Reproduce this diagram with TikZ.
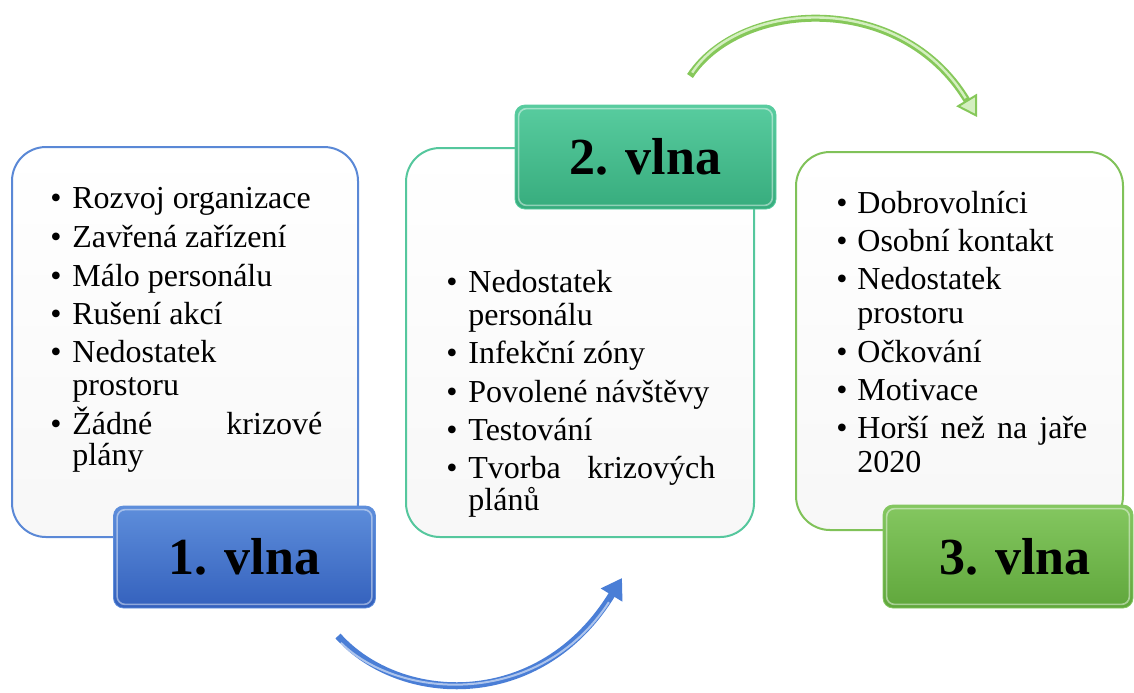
\documentclass[tikz,border=0pt]{standalone}
\usepackage{fontspec}
\setmainfont{Liberation Serif}
\usetikzlibrary{arrows.meta}

\definecolor{blueline}{HTML}{5A88D6}
\definecolor{bluetop}{HTML}{5E8EDB}
\definecolor{bluebot}{HTML}{3461BD}
\definecolor{tealline}{HTML}{55C79D}
\definecolor{tealtop}{HTML}{58CC9F}
\definecolor{tealbot}{HTML}{37AC7D}
\definecolor{greenline}{HTML}{80C259}
\definecolor{greentop}{HTML}{84C760}
\definecolor{greenbot}{HTML}{60A73C}
\definecolor{arrowblue}{HTML}{4A7ED6}
\definecolor{arrowgreen}{HTML}{86C85A}
\definecolor{greenhl}{HTML}{D4EFC0}

\newcommand\listfont{\fontsize{16pt}{18pt}\selectfont}
\newcommand\wavefont{\fontsize{26pt}{30pt}\selectfont\bfseries}

\begin{document}
\begin{tikzpicture}[x=0.5pt,y=-0.5pt,
  panel/.style={draw, line width=1pt, rounded corners=17pt,
    top color=white, bottom color=black!3, inner sep=0pt},
  wave/.style={rounded corners=5pt, inner sep=0pt, font=\wavefont,
    text=black, minimum width=131pt, minimum height=51pt},
  itm/.style={anchor=base west, inner sep=0pt, font=\listfont},
  bevel/.style={white, opacity=.45, line width=.8pt, rounded corners=4pt},
]
\useasboundingbox (0,0) rectangle (1134,692);

% content panels
\node[panel, draw=blueline, minimum width=173pt, minimum height=195pt] (p1) at (185,342) {};
\node[panel, draw=tealline, minimum width=174pt, minimum height=194.5pt] (p2) at (580,342.5) {};
\node[panel, draw=greenline, minimum width=163.5pt, minimum height=189pt] (p3) at (959.5,341) {};

% wave labels
\node[wave, top color=bluetop, bottom color=bluebot, draw=bluetop] (l1) at (244.5,557) {1. vlna};
\node[wave, top color=tealtop, bottom color=tealbot, draw=tealtop, minimum width=130.5pt, minimum height=52pt] (l2) at (645.5,157) {2. vlna};
\node[wave, top color=greentop, bottom color=greenbot, draw=greentop, minimum width=125pt, minimum height=51.5pt] (l3) at (1008,556.5) {\hspace*{7pt}3. vlna};
\foreach \l in {l1,l2,l3}
  \draw[bevel] ([shift={(4,4)}]\l.north west) rectangle ([shift={(-4,-4)}]\l.south east);

% first wave items
\node[itm] (a1b) at (50,208) {•};  \node[itm] (a1) at (72,208) {Rozvoj organizace};
\node[itm] (a2b) at (50,247) {•};  \node[itm] (a2) at (72,247) {Zavřená zařízení};
\node[itm] (a3b) at (50,286) {•};  \node[itm] (a3) at (72,286) {Málo personálu};
\node[itm] (a4b) at (50,324) {•};  \node[itm] (a4) at (72,324) {Rušení akcí};
\node[itm] (a5b) at (50,362) {•};  \node[itm] (a5) at (72,362) {Nedostatek};
\node[itm] (a5c) at (72,395) {prostoru};
\node[itm] (a6b) at (50,434) {•};  \node[itm] (a6) at (72,434) {\makebox[125pt][s]{Žádné\hfill krizové}};
\node[itm] (a6c) at (72,465) {plány};

% second wave items
\node[itm] (b1b) at (446,292) {•};  \node[itm] (b1) at (468,292) {Nedostatek};
\node[itm] (b1c) at (468,325) {personálu};
\node[itm] (b2b) at (446,363) {•};  \node[itm] (b2) at (468,363) {Infekční zóny};
\node[itm] (b3b) at (446,402) {•};  \node[itm] (b3) at (468,402) {Povolené návštěvy};
\node[itm] (b4b) at (446,440) {•};  \node[itm] (b4) at (468,440) {Testování};
\node[itm] (b5b) at (446,478) {•};  \node[itm] (b5) at (468,478) {\makebox[123.5pt][s]{Tvorba\hfill krizových}};
\node[itm] (b5c) at (468,510) {plánů};

% third wave items
\node[itm] (c1b) at (836,213) {•};  \node[itm] (c1) at (857,213) {Dobrovolníci};
\node[itm] (c2b) at (836,251) {•};  \node[itm] (c2) at (857,251) {Osobní kontakt};
\node[itm] (c3b) at (836,289) {•};  \node[itm] (c3) at (857,289) {Nedostatek};
\node[itm] (c3c) at (857,323) {prostoru};
\node[itm] (c4b) at (836,362) {•};  \node[itm] (c4) at (857,362) {Očkování};
\node[itm] (c5b) at (836,400) {•};  \node[itm] (c5) at (857,400) {Motivace};
\node[itm] (c6b) at (836,438) {•};  \node[itm] (c6) at (857,438) {\makebox[115pt][s]{Horší\hfill než\hfill na\hfill jaře}};
\node[itm] (c6c) at (857,472) {2020};

% curved arrows between the waves
\coordinate (bs) at (338,636);
\coordinate (be) at (622,578);
\draw[line width=3.5pt, arrowblue, -{Triangle[length=10pt,width=12pt]}]
  (bs) .. controls (400,705) and (540,712) .. (be);
\draw[line width=1pt, white, opacity=.55, shorten >=12pt, shorten <=2pt]
  ([yshift=-2]bs) .. controls (400,701) and (540,708) .. ([yshift=-2]be);

\coordinate (gs) at (690,76);
\coordinate (ge) at (977,117);
\draw[line width=3.5pt, arrowgreen, -{Triangle[length=10pt,width=12pt,line width=1pt,fill=greenhl]}]
  (gs) .. controls (740,0) and (900,-10) .. (ge);
\draw[line width=1.2pt, greenhl, shorten >=11pt, shorten <=2pt]
  (gs) .. controls (740,0) and (900,-10) .. (ge);
\end{tikzpicture}
\end{document}
